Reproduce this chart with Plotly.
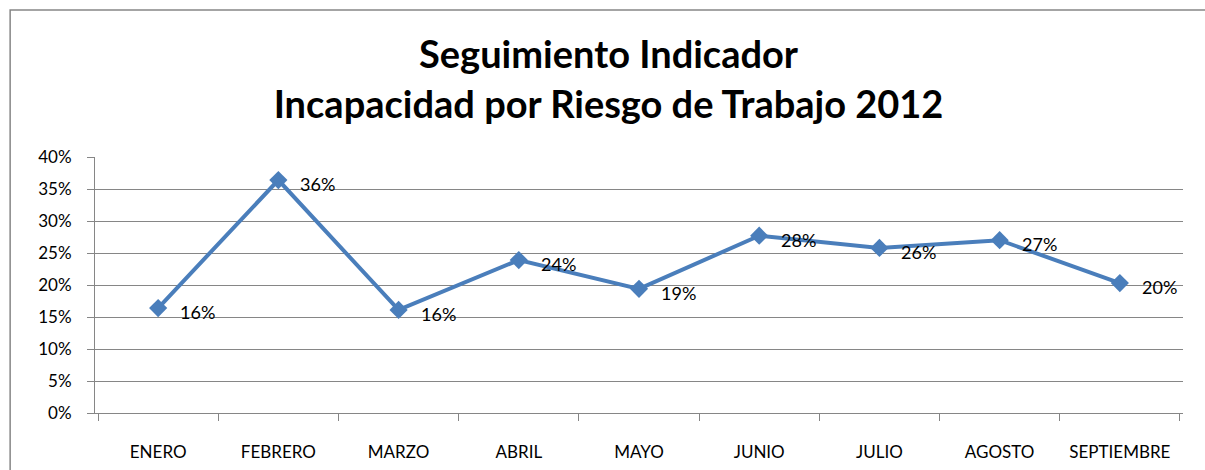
import plotly.graph_objects as go

months = ["ENERO", "FEBRERO", "MARZO", "ABRIL", "MAYO", "JUNIO", "JULIO", "AGOSTO", "SEPTIEMBRE"]
values = [0.164, 0.364, 0.161, 0.239, 0.194, 0.277, 0.258, 0.270, 0.203]
title_lines = ["Seguimiento Indicador", "Incapacidad por Riesgo de Trabajo 2012"]

FONT = "Lato, 'Open Sans', sans-serif"
GRAY = "#868686"
BLUE = "#4A7EBB"

fig = go.Figure()
fig.add_trace(go.Scatter(
    x=months, y=values,
    mode="lines+markers",
    line=dict(color=BLUE, width=4),
    marker=dict(symbol="diamond", size=14, color=BLUE),
    cliponaxis=False,
    showlegend=False,
))

annotations = [
    dict(x=m, y=v, xref="x", yref="y", text=f"{round(v*100):d}%",
         showarrow=False, xanchor="left", yanchor="middle",
         xshift=20, yshift=-4,
         font=dict(family=FONT, size=18, color="#000000"))
    for m, v in zip(months, values)
]

fig.update_layout(
    width=1205, height=470,
    margin=dict(l=95, r=22, t=157, b=57),
    paper_bgcolor="white", plot_bgcolor="white",
    font=dict(family=FONT, size=17, color="#000000"),
    title=dict(
        text="<br>".join(title_lines),
        x=0.505, xanchor="center", xref="container",
        y=0.855, yanchor="middle", yref="container",
        font=dict(family=FONT, size=38, color="#000000", weight="bold"),
    ),
    xaxis=dict(
        type="category",
        tickson="boundaries",
        ticks="outside", ticklen=7, tickcolor=GRAY, tickwidth=1,
        showgrid=False,
        showline=True, linecolor=GRAY, linewidth=1,
        ticklabelstandoff=24,
        automargin=False,
        tickfont=dict(family=FONT, size=17),
    ),
    yaxis=dict(
        range=[0, 0.4], dtick=0.05, tickformat=".0%",
        ticks="outside", ticklen=7, tickcolor=GRAY,
        showgrid=True, gridcolor=GRAY, gridwidth=1,
        showline=True, linecolor=GRAY, linewidth=1,
        zeroline=False,
        ticklabelstandoff=12,
        automargin=False,
        tickfont=dict(family=FONT, size=17),
    ),
    annotations=annotations,
    shapes=[dict(
        type="rect", xref="paper", yref="paper",
        x0=-0.078, x1=1.03, y0=-0.3, y1=1.574,
        line=dict(color=GRAY, width=1.5), fillcolor="rgba(0,0,0,0)", layer="below",
    )],
)

fig.write_html("out.html", config={"displayModeBar": False},
               post_script="document.body.style.margin='0';")
